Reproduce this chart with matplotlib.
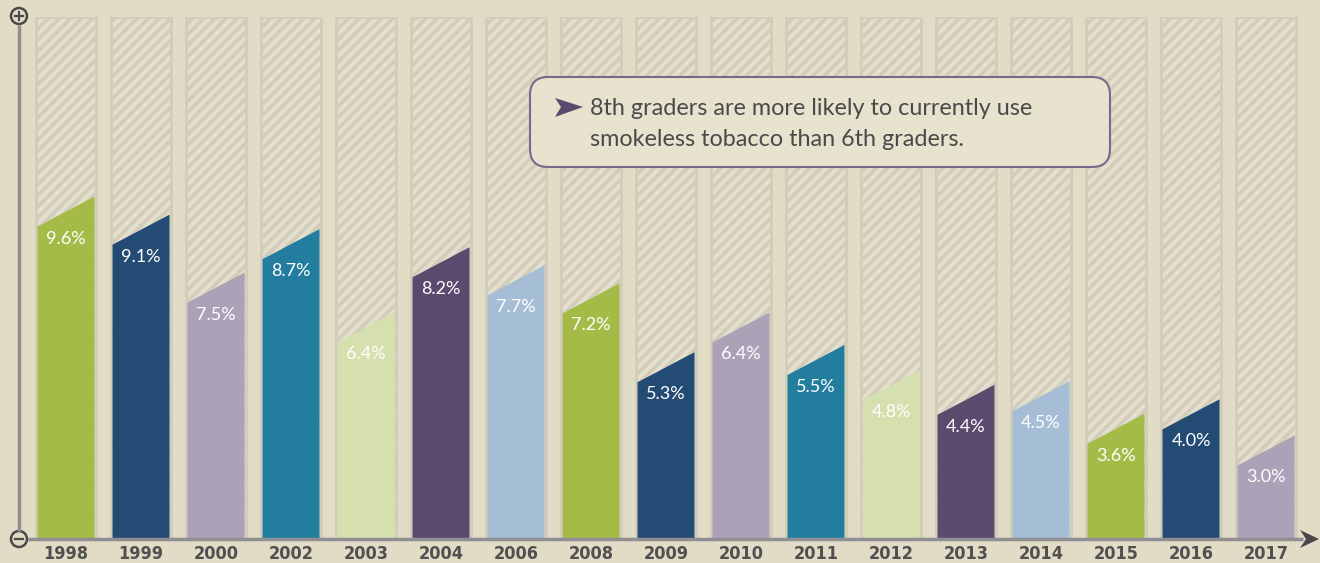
import matplotlib
matplotlib.use("Agg")
import matplotlib.pyplot as plt
from matplotlib.patches import Polygon, FancyBboxPatch, Circle

# data
years = ["1998", "1999", "2000", "2002", "2003", "2004", "2006", "2008", "2009",
         "2010", "2011", "2012", "2013", "2014", "2015", "2016", "2017"]
values = [9.6, 9.1, 7.5, 8.7, 6.4, 8.2, 7.7, 7.2, 5.3, 6.4, 5.5, 4.8, 4.4, 4.5, 3.6, 4.0, 3.0]
palette = ["#a4bb48", "#244b74", "#aba2b7", "#237d9f", "#d6dfae", "#5c4a6e", "#a6bed5"]
note = "8th graders are more likely to currently use\nsmokeless tobacco than 6th graders."

bg = "#e2dcc6"
plt.rcParams['hatch.linewidth'] = 2.6

W, H = 1320, 563
fig = plt.figure(figsize=(W / 100, H / 100), dpi=100)
fig.patch.set_facecolor(bg)

left_px, right_px, top_px, base_px = 19, 1305, 17, 539
ax = fig.add_axes([left_px / W, (H - base_px) / H, (right_px - left_px) / W, (base_px - top_px) / H])
ax.set_facecolor("none")
ax.set_xlim(-0.627, 16.52)
ymin, ymax = 0.14, 14.56
ax.set_ylim(ymin, ymax)
ax.axis("off")

# overlay in pixel coords for decoration (on top of bars)
deco = fig.add_axes([0, 0, 1, 1])
deco.set_xlim(0, W)
deco.set_ylim(H, 0)
deco.axis("off")
deco.set_facecolor("none")

slant = 0.83
cw, bw = 0.8, 0.76
for i, (y, v) in enumerate(zip(years, values)):
    # hatched container
    ax.bar(i, ymax - ymin, bottom=ymin, width=cw, color="#e3dfcc", edgecolor="#d2cdbb",
           linewidth=2, hatch="///", zorder=1)
    c = palette[i % len(palette)]
    poly = Polygon([(i - bw / 2, ymin), (i + bw / 2, ymin), (i + bw / 2, v),
                    (i - bw / 2, v - slant)], closed=True, facecolor=c, edgecolor="none", zorder=2)
    ax.add_patch(poly)
    ax.text(i, v - slant - 0.33, f"{v:.1f}%", color="white", ha="center", va="center",
            fontsize=13, family=["Lato", "DejaVu Sans"], zorder=3)
    ax.text(i, ymin - 0.42, y, color="#505050", ha="center", va="center", fontsize=13,
            fontweight="bold", fontstretch="condensed",
            family=["Liberation Sans Narrow", "DejaVu Sans"], clip_on=False)

# axes lines
axis_c = "#8f8f93"
deco.plot([left_px, left_px], [25, 531], color=axis_c, lw=2.5, solid_capstyle="butt")
deco.plot([28, 1303], [base_px, base_px], color=axis_c, lw=2.5, solid_capstyle="butt")
deco.add_patch(Polygon([(1300, 530), (1319, 539), (1300, 548), (1306, 539)], closed=True,
                       facecolor="#48484a", edgecolor="none"))
for cy, sym in [(16, "+"), (539, "-")]:
    deco.add_patch(Circle((left_px, cy), 8, facecolor=bg, edgecolor="#4a4a4a", lw=1.8))
    deco.plot([left_px - 4, left_px + 4], [cy, cy], color="#4a4a4a", lw=1.6)
    if sym == "+":
        deco.plot([left_px, left_px], [cy - 4, cy + 4], color="#4a4a4a", lw=1.6)

# note box
deco.add_patch(FancyBboxPatch((530, 77), 580, 90, boxstyle="round,pad=0,rounding_size=18",
                              facecolor="#e8e4d0", edgecolor="#6f5f86", lw=1.5, alpha=0.92, zorder=5))
deco.add_patch(Polygon([(555, 98), (583, 107), (555, 117), (561, 107)], closed=True,
                       facecolor="#5c4a6e", edgecolor="none", zorder=6))
deco.text(590, 124, note, color="#4a4a4a", fontsize=16.8, family=["Lato", "DejaVu Sans"],
          va="center", ha="left", linespacing=1.6, zorder=6)

fig.savefig("out.png", dpi=100, facecolor=bg)
